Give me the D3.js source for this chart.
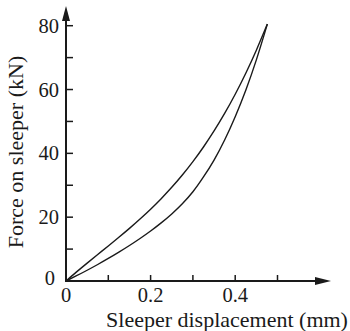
<!DOCTYPE html>
<html>
<head>
<meta charset="utf-8">
<script src="https://cdn.jsdelivr.net/npm/d3@7"></script>
<style>
  html, body { margin: 0; padding: 0; background: #fff; }
  svg text { font-family: "Liberation Serif", "Times New Roman", serif; fill: #1a1a1a; }
</style>
</head>
<body>
<svg id="chart" width="350" height="331"></svg>
<script>
// Load–unload loop of force on sleeper vs. sleeper displacement
const dispSteps  = [0, 0.025, 0.05, 0.075, 0.10, 0.125, 0.15, 0.175, 0.20, 0.225, 0.25,
                    0.275, 0.30, 0.325, 0.35, 0.375, 0.40, 0.425, 0.45, 0.476];
const upperForce = [0, 2.85, 5.60, 8.30, 10.98, 13.70, 16.49, 19.42, 22.50, 25.80, 29.35,
                    33.20, 37.40, 41.99, 47.01, 52.50, 58.52, 65.11, 72.32, 80.5];
const lowerForce = [0, 1.65, 3.37, 5.17, 7.06, 9.04, 11.12, 13.32, 15.67, 18.22, 21.02,
                    24.20, 27.95, 32.60, 37.90, 44.20, 51.50, 59.80, 69.30, 80.5];

const xTicks = [0, 0.1, 0.2, 0.3, 0.4, 0.5];
const xTickLabels = ["0", "", "0.2", "", "0.4", ""];
const yTicks = [0, 10, 20, 30, 40, 50, 60, 70, 80];
const yTickLabels = ["0", "", "20", "", "40", "", "60", "", "80"];

const xTitle = "Sleeper displacement (mm)";
const yTitle = "Force on sleeper (kN)";

const svg = d3.select("#chart");
const ink = "#1a1a1a";

const x = d3.scaleLinear().domain([0, 0.5]).range([66, 277.5]);
const y = d3.scaleLinear().domain([0, 80]).range([281, 25.7]);

// axes lines with arrowheads
const x0 = x(0), y0 = y(0);
svg.append("line").attr("x1", x0).attr("y1", y0 + 1).attr("x2", x0).attr("y2", 14)
  .attr("stroke", ink).attr("stroke-width", 2);
svg.append("line").attr("x1", x0 - 1).attr("y1", y0).attr("x2", 320).attr("y2", y0)
  .attr("stroke", ink).attr("stroke-width", 2);
svg.append("path").attr("d", `M${x0},6 L${x0 - 4},21 L${x0 + 4},21 Z`).attr("fill", ink);
svg.append("path").attr("d", `M331,${y0} L315,${y0 - 4} L315,${y0 + 4} Z`).attr("fill", ink);

// tick marks, drawn inward
svg.append("g").selectAll("line").data(yTicks.slice(1)).join("line")
  .attr("x1", x0).attr("x2", x0 + 7)
  .attr("y1", d => y(d)).attr("y2", d => y(d))
  .attr("stroke", ink).attr("stroke-width", 1.5);
svg.append("g").selectAll("line").data(xTicks.slice(1)).join("line")
  .attr("x1", d => x(d)).attr("x2", d => x(d))
  .attr("y1", y0).attr("y2", y0 - 6)
  .attr("stroke", ink).attr("stroke-width", 1.5);

// tick labels
svg.append("g").selectAll("text").data(yTicks.map((v, i) => [v, yTickLabels[i]]).filter(d => d[1]))
  .join("text")
  .attr("x", d => d[0] === 0 ? 55 : 59)
  .attr("y", d => y(d[0]) + (d[0] === 0 ? 4 : 7))
  .attr("text-anchor", "end")
  .attr("font-size", 20.5)
  .text(d => d[1]);
svg.append("g").selectAll("text").data(xTicks.map((v, i) => [v, xTickLabels[i]]).filter(d => d[1]))
  .join("text")
  .attr("x", d => x(d[0]))
  .attr("y", 302)
  .attr("text-anchor", "middle")
  .attr("font-size", 20.5)
  .text(d => d[1]);

// axis titles
svg.append("text").attr("x", 227).attr("y", 326.5).attr("text-anchor", "middle")
  .attr("font-size", 22).text(xTitle);
svg.append("text").attr("transform", "translate(23,152) rotate(-90)")
  .attr("text-anchor", "middle").attr("font-size", 22).text(yTitle);

// the two branches of the loop
const line = d3.line().x(d => x(d[0])).y(d => y(d[1])).curve(d3.curveNatural);
svg.append("path").datum(dispSteps.map((d, i) => [d, upperForce[i]]))
  .attr("d", line).attr("fill", "none").attr("stroke", ink).attr("stroke-width", 1.4);
svg.append("path").datum(dispSteps.map((d, i) => [d, lowerForce[i]]))
  .attr("d", line).attr("fill", "none").attr("stroke", ink).attr("stroke-width", 1.4);
</script>
</body>
</html>
